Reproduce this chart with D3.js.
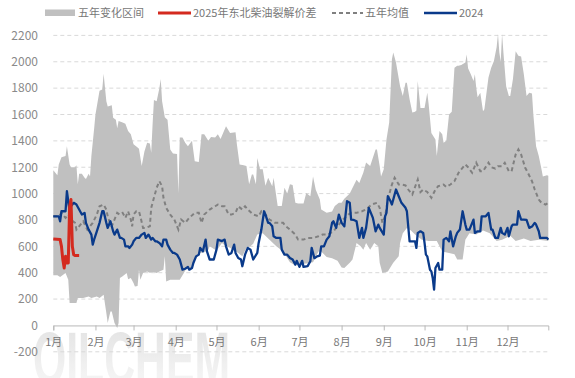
<!DOCTYPE html>
<html>
<head>
<meta charset="utf-8">
<script src="https://cdn.jsdelivr.net/npm/d3@7"></script>
<style>
  body { margin: 0; background: #fff; }
  text { font-family: "Noto Sans CJK SC", "Noto Sans", sans-serif; }
</style>
</head>
<body>
<div id="chart-area"></div>
<script>

// [day of year, value]
const bandHigh = [[1,1178],[4,1140],[5,1220],[7,1275],[10,1285],[11,1360],[13,1220],[14,1200],[17,1200],[18,1215],[19,1070],[20,1150],[22,1150],[24,1120],[25,1110],[27,1150],[28,1130],[29,1285],[31,1490],[32,1600],[35,1780],[37,1790],[38,1910],[40,1700],[41,1660],[44,1670],[45,1575],[47,1560],[48,1495],[49,1550],[52,1540],[54,1530],[56,1475],[58,1450],[60,1375],[63,1350],[64,1340],[66,1210],[68,1320],[70,1385],[72,1380],[73,1310],[74,1525],[75,1710],[77,1700],[79,1800],[80,1870],[81,1700],[83,1580],[85,1560],[87,1335],[89,1305],[92,1300],[93,1000],[94,1425],[96,1425],[98,1385],[100,1360],[103,1400],[105,1245],[108,1240],[110,1450],[112,1450],[115,1400],[117,1430],[120,1425],[122,1450],[124,1415],[128,1510],[131,1460],[135,1465],[136,1375],[138,1220],[141,1215],[143,1210],[145,1070],[147,1145],[148,1145],[150,1070],[151,1270],[153,1185],[155,1185],[157,1060],[159,1120],[162,1055],[163,1120],[166,905],[169,905],[171,1045],[173,1000],[175,1070],[177,1065],[179,930],[181,925],[185,925],[187,1005],[190,980],[192,1130],[194,1030],[197,955],[198,880],[202,855],[206,865],[208,905],[211,930],[213,930],[215,960],[219,1000],[224,1105],[226,1080],[229,1160],[231,1235],[234,1210],[238,1335],[239,1335],[241,1210],[242,1130],[244,1185],[246,1410],[248,1540],[250,2020],[251,2070],[253,1995],[256,1815],[258,1740],[260,1840],[261,1840],[263,1715],[265,1615],[267,1620],[268,1630],[269,1855],[271,1650],[273,1650],[274,1650],[276,1765],[277,1680],[279,1460],[282,1410],[283,1285],[285,1475],[287,1450],[288,1385],[290,1400],[292,1600],[294,1620],[296,1955],[298,1970],[299,1970],[301,1975],[304,1995],[305,2055],[306,1950],[308,1905],[310,1855],[311,1905],[312,1805],[313,1730],[315,1765],[317,1625],[318,1640],[321,1880],[323,1955],[325,2005],[327,2110],[328,2210],[329,2070],[330,2000],[331,2210],[332,2070],[334,1815],[336,1740],[337,1740],[339,1870],[341,2080],[343,2045],[345,2040],[347,1905],[349,1740],[351,1765],[353,1760],[354,1600],[356,1360],[358,1285],[360,1185],[361,1130],[364,1140],[365,1135]];

const bandLow = [[1,380],[4,380],[6,368],[10,398],[12,347],[13,170],[18,170],[19,208],[23,208],[27,220],[29,208],[33,220],[35,208],[38,233],[40,94],[41,18],[43,106],[44,106],[46,18],[48,-20],[49,18],[50,360],[52,373],[55,398],[56,350],[58,360],[60,322],[61,296],[63,300],[64,423],[65,347],[67,398],[70,410],[72,400],[75,405],[77,398],[79,410],[82,423],[83,524],[84,334],[87,347],[90,347],[94,347],[97,398],[99,436],[103,436],[105,500],[109,550],[112,555],[115,575],[116,600],[120,575],[122,580],[125,626],[128,600],[131,590],[133,575],[137,550],[140,524],[143,588],[146,600],[148,620],[151,690],[155,700],[160,650],[165,600],[170,560],[175,480],[179,455],[182,465],[187,470],[192,480],[196,560],[198,560],[202,520],[206,510],[210,490],[213,440],[215,436],[219,476],[221,500],[224,625],[227,600],[229,575],[231,626],[234,575],[237,626],[240,600],[241,476],[243,398],[247,410],[251,476],[255,524],[256,626],[258,700],[261,740],[264,720],[267,690],[272,650],[277,640],[283,640],[287,560],[292,550],[296,540],[298,500],[302,500],[304,650],[307,700],[312,690],[317,720],[322,700],[327,640],[331,650],[337,680],[341,640],[347,660],[352,640],[358,650],[365,640]];

const avg5y = [[1,828],[5,828],[7,854],[10,816],[12,841],[14,803],[17,778],[18,727],[21,765],[23,790],[26,727],[28,752],[30,778],[33,841],[35,904],[38,917],[40,879],[41,828],[43,765],[44,752],[46,803],[48,854],[50,840],[52,854],[54,816],[56,866],[58,803],[59,752],[60,841],[62,866],[64,866],[65,828],[67,740],[69,740],[72,752],[73,892],[75,968],[77,1044],[79,1094],[81,1056],[82,968],[84,892],[87,841],[90,803],[93,727],[95,803],[98,778],[101,816],[105,854],[108,854],[110,778],[112,841],[116,879],[120,904],[122,917],[125,904],[127,904],[130,841],[132,841],[135,854],[137,904],[140,879],[142,904],[144,879],[148,841],[152,828],[154,866],[157,841],[160,803],[164,778],[167,778],[170,778],[172,752],[175,727],[179,689],[181,651],[185,651],[188,663],[192,663],[196,676],[199,689],[203,689],[207,714],[211,765],[214,803],[218,841],[220,854],[224,854],[228,866],[231,879],[235,917],[239,930],[241,892],[243,778],[245,828],[247,955],[250,1069],[252,1120],[255,1069],[257,1069],[260,1062],[262,1031],[265,993],[267,1050],[269,1107],[271,1012],[273,1031],[276,1012],[279,968],[282,1031],[284,1056],[288,1069],[290,1050],[293,1069],[296,1094],[299,1158],[301,1183],[304,1221],[306,1200],[309,1158],[312,1234],[315,1170],[317,1170],[321,1234],[323,1200],[326,1190],[328,1208],[331,1208],[333,1234],[336,1170],[338,1170],[341,1297],[343,1335],[345,1297],[348,1196],[350,1158],[353,1094],[355,1031],[358,955],[360,930],[363,917],[365,930]];

const y2024 = [[1,828],[5,828],[6,790],[7,866],[10,866],[11,1018],[13,866],[14,904],[16,930],[18,917],[20,879],[22,841],[24,854],[25,778],[27,727],[29,689],[30,613],[31,651],[33,714],[35,778],[37,866],[38,866],[40,778],[41,740],[43,790],[45,714],[46,689],[48,727],[50,664],[51,664],[53,651],[54,600],[56,600],[57,588],[59,613],[60,638],[62,664],[64,664],[66,689],[68,702],[69,664],[71,689],[73,651],[74,664],[76,638],[77,638],[79,626],[81,600],[82,651],[84,651],[85,613],[87,575],[89,550],[90,550],[92,537],[94,500],[96,423],[98,430],[100,444],[101,423],[103,436],[104,474],[106,524],[108,537],[109,588],[111,562],[113,651],[114,562],[116,500],[119,500],[121,575],[122,651],[125,640],[127,651],[128,600],[130,537],[132,550],[134,613],[135,550],[137,512],[139,500],[140,449],[142,537],[144,588],[146,575],[148,500],[151,550],[152,626],[154,727],[156,866],[157,840],[159,778],[160,778],[162,752],[163,676],[165,664],[168,664],[169,575],[171,537],[173,537],[175,512],[177,500],[179,461],[180,490],[182,444],[184,490],[185,444],[188,450],[190,487],[191,588],[193,510],[195,524],[197,530],[198,600],[200,600],[202,651],[204,676],[206,778],[207,790],[209,740],[211,841],[213,778],[215,752],[217,942],[219,930],[220,803],[222,800],[224,790],[226,664],[228,740],[229,664],[231,740],[233,892],[236,816],[238,714],[240,765],[241,740],[244,689],[245,828],[246,854],[247,980],[249,942],[250,917],[252,993],[253,1031],[255,980],[257,930],[260,892],[261,866],[263,638],[265,638],[267,638],[268,588],[269,702],[271,714],[273,702],[274,626],[275,537],[276,524],[278,423],[279,410],[280,360],[281,271],[282,436],[284,474],[285,423],[287,423],[288,651],[290,664],[292,638],[293,714],[295,600],[297,676],[298,702],[300,727],[302,866],[304,765],[305,727],[307,727],[310,803],[311,702],[313,714],[315,714],[316,828],[319,828],[321,854],[323,727],[324,727],[326,664],[328,664],[330,740],[331,702],[333,689],[335,740],[336,676],[338,752],[339,765],[342,765],[343,866],[345,803],[347,803],[349,800],[351,740],[353,750],[355,778],[356,765],[358,714],[359,664],[361,664],[364,664],[365,651]];

const y2025 = [[1,656],[6,651],[7,600],[8,500],[9,436],[10,524],[11,474],[12,474],[13,900],[14,955],[15,600],[16,537],[17,530],[20,530]];

const yTicks = [-200, 0, 200, 400, 600, 800, 1000, 1200, 1400, 1600, 1800, 2000, 2200];
const legendLabels = ["五年变化区间", "2025年东北柴油裂解价差", "五年均值", "2024"];

const width = 575, height = 378;
const start = new Date(2023, 0, 1);
function toDate(day) { return d3.timeDay.offset(start, day - 1); }

let svg = d3.select("#chart-area")
	.append("svg")
	.attr("width", width)
	.attr("height", height);

let x = d3.scaleTime()
	.domain([start, new Date(2023, 11, 31)])
	.range([53.3, 548.3]);

let y = d3.scaleLinear()
	.domain([-200, 2200])
	.range([351.8, 35.4]);

/** Watermark */
let defs = svg.append("defs");
let grad = defs.append("linearGradient")
	.attr("id", "wm").attr("x1", 0).attr("y1", 0).attr("x2", 0).attr("y2", 1);
grad.append("stop").attr("offset", "0%").attr("stop-color", "#d4d4d4");
grad.append("stop").attr("offset", "100%").attr("stop-color", "#fafafa");

svg.append("text")
	.attr("x", 33)
	.attr("y", 384)
	.attr("textLength", 197)
	.attr("lengthAdjust", "spacingAndGlyphs")
	.style("font-family", "'Liberation Sans', Arial, sans-serif")
	.style("font-weight", "bold")
	.style("font-size", "74px")
	.attr("fill", "url(#wm)")
	.attr("opacity", 0.7)
	.text("OILCHEM");

/** Grid + y labels */
svg.append("g")
	.selectAll("line")
	.data(yTicks.filter(d => d !== 0))
	.enter()
	.append("line")
	.attr("x1", 53.3)
	.attr("x2", 548.3)
	.attr("y1", d => y(d))
	.attr("y2", d => y(d))
	.attr("stroke", "#d9d9d9")
	.attr("stroke-dasharray", "4,3");

svg.append("g")
	.selectAll("text")
	.data(yTicks)
	.enter()
	.append("text")
	.attr("x", 38)
	.attr("y", d => y(d))
	.attr("dy", "0.36em")
	.attr("text-anchor", "end")
	.attr("fill", "#8a8a8a")
	.style("font-size", "12px")
	.text(d => d);

/** Band */
let line = d3.line()
	.x(d => x(toDate(d[0])))
	.y(d => y(d[1]));

let bandPath = line(bandHigh) + "L" + line(bandLow.slice().reverse()).slice(1) + "Z";
svg.append("path")
	.attr("d", bandPath)
	.attr("fill", "#c0c0c0");

/** X axis */
let months = d3.timeMonth.range(start, new Date(2023, 11, 2));
let xAxis = d3.axisBottom(x)
	.tickValues(months)
	.tickFormat(d => (d.getMonth() + 1) + "月")
	.tickSize(5)
	.tickSizeOuter(5)
	.tickPadding(8);

let xg = svg.append("g")
	.attr("transform", "translate(0," + y(0) + ")")
	.call(xAxis);
xg.select(".domain").attr("stroke", "#b8b8b8");
xg.selectAll(".tick line").attr("stroke", "#b8b8b8");
xg.selectAll(".tick text")
	.attr("fill", "#777")
	.style("font-size", "11px")
	.style("font-family", "'Noto Sans CJK SC', sans-serif");

/** Lines */
svg.append("path")
	.datum(avg5y)
	.attr("d", line)
	.attr("fill", "none")
	.attr("stroke", "#808080")
	.attr("stroke-width", 2)
	.attr("stroke-dasharray", "4,3");

svg.append("path")
	.datum(y2024)
	.attr("d", line)
	.attr("fill", "none")
	.attr("stroke", "#0a3a8a")
	.attr("stroke-width", 2.3)
	.attr("stroke-linejoin", "round");

svg.append("path")
	.datum(y2025)
	.attr("d", line)
	.attr("fill", "none")
	.attr("stroke", "#d42a1f")
	.attr("stroke-width", 3)
	.attr("stroke-linejoin", "round");

/** Legend */
let lg = svg.append("g").style("font-size", "11px");

lg.append("rect")
	.attr("x", 45).attr("y", 9.5).attr("width", 30).attr("height", 6.5)
	.attr("fill", "#c0c0c0");

lg.append("line")
	.attr("x1", 158).attr("x2", 191).attr("y1", 13).attr("y2", 13)
	.attr("stroke", "#d42a1f").attr("stroke-width", 3);

lg.append("line")
	.attr("x1", 332).attr("x2", 363).attr("y1", 13).attr("y2", 13)
	.attr("stroke", "#808080").attr("stroke-width", 2).attr("stroke-dasharray", "4,3");

lg.append("line")
	.attr("x1", 424).attr("x2", 457).attr("y1", 13).attr("y2", 13)
	.attr("stroke", "#0a3a8a").attr("stroke-width", 2.5);

let legendX = [78, 193, 365, 459];
lg.selectAll("text")
	.data(legendLabels)
	.enter()
	.append("text")
	.attr("x", (d, i) => legendX[i])
	.attr("y", 13)
	.attr("dy", "0.36em")
	.attr("fill", "#777")
	.text(d => d);

</script>
</body>
</html>
